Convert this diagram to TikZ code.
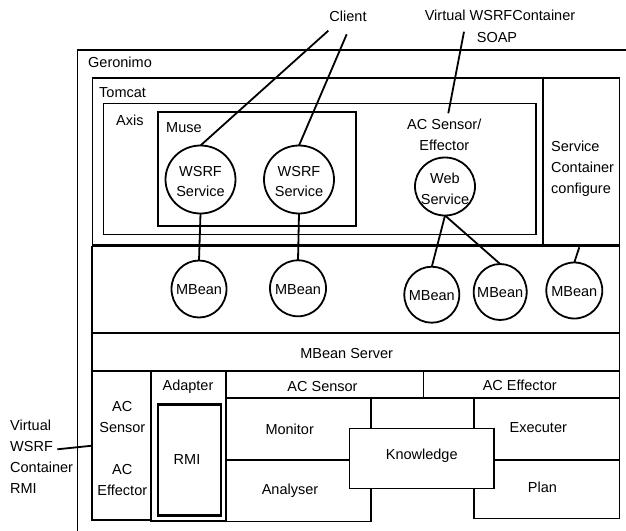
\documentclass[tikz,border=0pt]{standalone}
\usepackage{fontspec}
\setmainfont{Liberation Sans}
\usetikzlibrary{shapes.geometric}
\tikzset{
  box/.style={draw, line width=1.8pt, rectangle, inner sep=0pt, outer sep=0pt, anchor=north west},
  circ/.style={draw, line width=1.8pt, ellipse, inner sep=0pt, outer sep=0pt, fill=white},
  txt/.style={inner sep=0pt, text height=10.4pt, text depth=0pt, font=\fontsize{14.5}{20}\selectfont},
  ltxt/.style={txt, anchor=west},
  con/.style={line width=1.8pt},
}
\begin{document}
\begin{tikzpicture}[x=1pt, y=-1pt]
\useasboundingbox (0,0) rectangle (626,530);
\clip (0,0) rectangle (626,530);
% Geronimo (cut off at right and bottom)
\node[box, minimum width=600pt, minimum height=520pt] (geronimo) at (77.5,50) {};
\node[ltxt] (tgeronimo) at (88,62.7) {Geronimo};
% Tomcat
\node[box, minimum width=527pt, minimum height=167pt] (tomcat) at (92.5,78) {};
\node[ltxt] (ttomcat) at (99,92.7) {Tomcat};
\node[box, minimum width=76.5pt, minimum height=167pt] (svc) at (543,78) {};
\node[ltxt] (tsvc1) at (551,146.7) {Service};
\node[ltxt] (tsvc2) at (551,167.5) {Container};
\node[ltxt] (tsvc3) at (551,188) {configure};
% Axis
\node[box, minimum width=432.5pt, minimum height=131pt] (axis) at (103.5,103.5) {};
\node[ltxt] (taxis) at (116,120) {Axis};
% Muse
\node[box, minimum width=198pt, minimum height=114pt] (muse) at (158,112) {};
\node[ltxt] (tmuse) at (166,127.3) {Muse};
% AC Sensor / Effector text
\node[txt] (tacse1) at (444.3,124) {AC Sensor/};
\node[txt] (tacse2) at (444.3,145.7) {Effector};
% MBean region
\node[box, minimum width=527.5pt, minimum height=86.5pt] (mbox) at (92,246.5) {};
\node[box, minimum width=527.5pt, minimum height=38pt] (mserver) at (92,333) {};
\node[txt] (tmserver) at (346.7,353.3) {MBean Server};
% lower section
\node[box, minimum width=59pt, minimum height=149pt] (acc) at (92,371) {};
\node[txt] (tacc1) at (122.3,406.7) {AC};
\node[txt] (tacc2) at (122.3,427.3) {Sensor};
\node[txt] (tacc3) at (122.3,469.3) {AC};
\node[txt] (tacc4) at (122.3,490) {Effector};
\node[box, minimum width=74.5pt, minimum height=150pt] (adapter) at (151,371) {};
\node[txt] (tadapter) at (188,385.7) {Adapter};
\node[box, line width=2.5pt, minimum width=63.2pt, minimum height=110.6pt] (rmi) at (158,404.7) {};
\node[txt] (trmi) at (187,459.3) {RMI};
\node[box, minimum width=197.5pt, minimum height=27pt] (acs) at (226,371) {};
\node[txt] (tacs) at (322.5,386.7) {AC Sensor};
\node[box, minimum width=196pt, minimum height=27pt] (ace) at (423.5,371) {};
\node[txt] (tace) at (519.7,385) {AC Effector};
\node[box, minimum width=145pt, minimum height=62pt] (mon) at (226,398) {};
\node[txt] (tmon) at (289.7,429.3) {Monitor};
\node[box, minimum width=145pt, minimum height=61.5pt] (ana) at (226,460) {};
\node[txt] (tana) at (290,489.3) {Analyser};
\node[box, minimum width=145.5pt, minimum height=62pt] (exe) at (474,398) {};
\node[txt] (texe) at (538.3,427.3) {Executer};
\node[box, minimum width=145.5pt, minimum height=58.5pt] (plan) at (474,460) {};
\node[txt] (tplan) at (542.5,487.3) {Plan};
\node[box, fill=white, minimum width=144.5pt, minimum height=60pt] (know) at (349.5,428.5) {};
\node[txt] (tknow) at (421.7,454) {Knowledge};
% service circles
\node[circ, minimum width=70pt, minimum height=68pt] (w1) at (200.5,179.5) {};
\node[txt] (tw1a) at (200.5,171.7) {WSRF};
\node[txt] (tw1b) at (200.5,191.7) {Service};
\node[circ, minimum width=70pt, minimum height=68pt] (w2) at (299,179.5) {};
\node[txt] (tw2a) at (299,171.7) {WSRF};
\node[txt] (tw2b) at (299,191.7) {Service};
\node[circ, minimum width=60pt, minimum height=58pt] (web) at (445,186.5) {};
\node[txt] (twa) at (445,178.3) {Web};
\node[txt] (twb) at (445,199) {Service};
% MBeans
\node[circ, minimum width=55pt, minimum height=57pt] (m1) at (199,289) {};
\node[txt] (tm1) at (199,289) {MBean};
\node[circ, minimum width=56pt, minimum height=56pt] (m2) at (298,288.3) {};
\node[txt] (tm2) at (298,289) {MBean};
\node[circ, minimum width=55pt, minimum height=56pt] (m3) at (431.8,294.7) {};
\node[txt] (tm3) at (431.8,295) {MBean};
\node[circ, minimum width=53pt, minimum height=56pt] (m4) at (500.2,292) {};
\node[txt] (tm4) at (500.2,292) {MBean};
\node[circ, minimum width=56pt, minimum height=56pt] (m5) at (574.3,290.5) {};
\node[txt] (tm5) at (574.3,291) {MBean};
% outside labels
\node[txt] (tclient) at (348,16) {Client};
\node[txt] (tvwc) at (500,15) {Virtual WSRFContainer};
\node[txt] (tsoap) at (497,37) {SOAP};
\node[ltxt] (tv1) at (10,425) {Virtual};
\node[ltxt] (tv2) at (10,446) {WSRF};
\node[ltxt] (tv3) at (10,467.3) {Container};
\node[ltxt] (tv4) at (10,488.3) {RMI};
% connectors
\coordinate (cl1) at (328.3,30.7);
\coordinate (cl2) at (346.7,34.3);
\coordinate (soap1) at (464,31.7);
\coordinate (soap2) at (448.3,113.3);
\coordinate (m5top) at (579.3,247.3);
\coordinate (vrmi) at (57.3,449.3);
\coordinate (accl) at (92,445.7);
\draw[con] (cl1) -- (w1.north);
\draw[con] (cl2) -- (w2.north);
\draw[con] (soap1) -- (soap2);
\draw[con] (w1.south) -- (m1.north);
\draw[con] (w2.south) -- (m2.north);
\draw[con] (web.south) -- (m3.north);
\draw[con] (web.south) -- (m4.north);
\draw[con] (m5top) -- (m5.north);
\draw[con] (vrmi) -- (accl);
\end{tikzpicture}
\end{document}
